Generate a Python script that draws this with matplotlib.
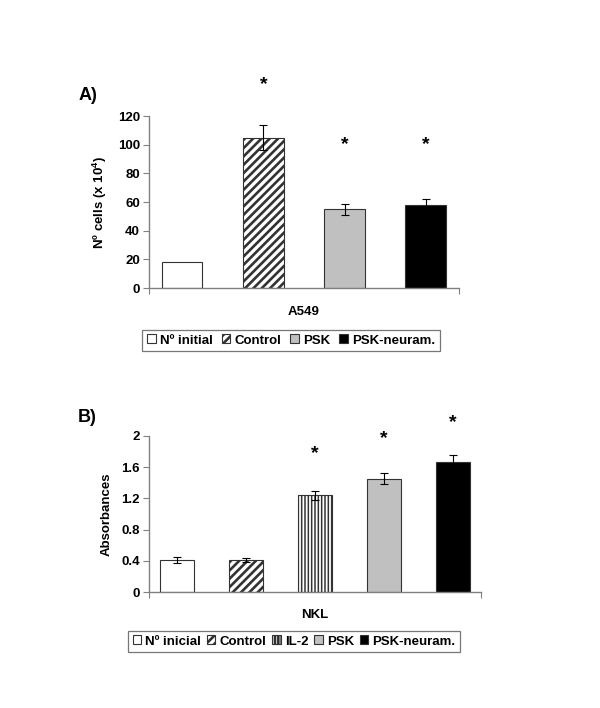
import matplotlib
matplotlib.use("Agg")
import matplotlib.pyplot as plt

# Panel A: A549 cell counts
a_labels = ['Nº initial', 'Control', 'PSK', 'PSK-neuram.']
a_values = [18, 105, 55, 58]
a_errors = [0, 8.5, 4, 4.5]
a_star_y = [None, 142, 100, 100]

# Panel B: NKL absorbances
b_labels = ['Nº inicial', 'Control', 'IL-2', 'PSK', 'PSK-neuram.']
b_values = [0.41, 0.41, 1.24, 1.45, 1.67]
b_errors = [0.04, 0.03, 0.06, 0.07, 0.08]
b_star_y = [None, None, 1.78, 1.97, 2.17]

a_ticks = [0, 20, 40, 60, 80, 100, 120]
b_ticks = [0, 0.4, 0.8, 1.2, 1.6, 2]

styles = {
    'Nº initial': dict(color='white', hatch=''),
    'Nº inicial': dict(color='white', hatch=''),
    'Control': dict(color='white', hatch='////'),
    'IL-2': dict(color='white', hatch='|||||'),
    'PSK': dict(color='#c0c0c0', hatch=''),
    'PSK-neuram.': dict(color='black', hatch=''),
}

plt.rcParams['font.family'] = ['Liberation Sans', 'DejaVu Sans']
plt.rcParams['font.weight'] = 'bold'
plt.rcParams['mathtext.fontset'] = 'custom'
plt.rcParams['mathtext.rm'] = 'Liberation Sans:bold'
plt.rcParams['mathtext.default'] = 'rm'
plt.rcParams['hatch.linewidth'] = 1.9
plt.rcParams['hatch.color'] = 'black'

AXIS_GRAY = '#808080'
FS = 9.5


def draw_panel(ax, labels, values, errors, star_y, ticks, ylabel, xlabel):
    xs = list(range(len(labels)))
    bars = []
    for x, lab, v, e in zip(xs, labels, values, errors):
        st = styles[lab]
        b = ax.bar(x, v, width=0.5, color=st['color'], hatch=st['hatch'],
                   edgecolor='#333333', linewidth=0.8, label=lab, zorder=2)
        if lab == 'IL-2':
            for p in b:
                if hasattr(p, 'set_hatch_linewidth'):
                    p.set_hatch_linewidth(1.1)
        bars.append(b)
        if e > 0:
            ax.errorbar(x, v, yerr=e, fmt='none', ecolor='black',
                        elinewidth=0.8, capsize=3, capthick=0.8, zorder=3)
    for x, sy in zip(xs, star_y):
        if sy is not None:
            ax.text(x, sy, '*', ha='center', va='center', fontsize=14,
                    fontweight='bold')
    ax.set_xlim(-0.41, len(labels) - 1 + 0.41)
    ax.set_ylim(0, ticks[-1])
    ax.set_yticks(ticks)
    ax.set_yticklabels([f'{t:g}' for t in ticks], fontsize=FS,
                       fontweight='bold')
    ax.set_xticks(ax.get_xlim())
    ax.set_xticklabels(['', ''])
    ax.tick_params(axis='both', direction='out', length=4, width=0.8,
                   color=AXIS_GRAY, pad=2.5)
    for s in ['top', 'right']:
        ax.spines[s].set_visible(False)
    for s in ['left', 'bottom']:
        ax.spines[s].set_color(AXIS_GRAY)
        ax.spines[s].set_linewidth(1.0)
    ax.set_ylabel(ylabel, fontsize=FS, fontweight='bold', labelpad=6)
    ax.set_xlabel(xlabel, fontsize=FS, fontweight='bold', labelpad=6)
    return bars


fig = plt.figure(figsize=(6, 7.08), dpi=100)

ax_a = fig.add_axes([0.248, 0.593, 0.517, 0.243])
bars_a = draw_panel(ax_a, a_labels, a_values, a_errors, a_star_y, a_ticks,
                    'Nº cells (x 10$^{4}$)', 'A549')

ax_b = fig.add_axes([0.248, 0.1638, 0.554, 0.2204])
bars_b = draw_panel(ax_b, b_labels, b_values, b_errors, b_star_y, b_ticks,
                    'Absorbances', 'NKL')

fig.text(79 / 600, 1 - 100 / 708, 'A)', fontsize=13, fontweight='bold',
         ha='left', va='baseline')
fig.text(78 / 600, 1 - 422 / 708, 'B)', fontsize=13, fontweight='bold',
         ha='left', va='baseline')

leg_kw = dict(ncol=5, fontsize=FS, frameon=True, fancybox=False,
              edgecolor='#555555', handlelength=0.65, handleheight=0.65,
              handletextpad=0.3, borderpad=0.35,
              borderaxespad=0, loc='center')
leg_a = fig.legend(handles=bars_a, labels=a_labels, columnspacing=0.7,
                   bbox_to_anchor=(291 / 600, 1 - 340.5 / 708), **leg_kw)
leg_b = fig.legend(handles=bars_b, labels=b_labels, columnspacing=0.45,
                   bbox_to_anchor=(294 / 600, 1 - 641.5 / 708), **leg_kw)
for leg in (leg_a, leg_b):
    leg.get_frame().set_linewidth(0.9)
    for t in leg.get_texts():
        t.set_fontweight('bold')

fig.savefig('out.png', dpi=100)
